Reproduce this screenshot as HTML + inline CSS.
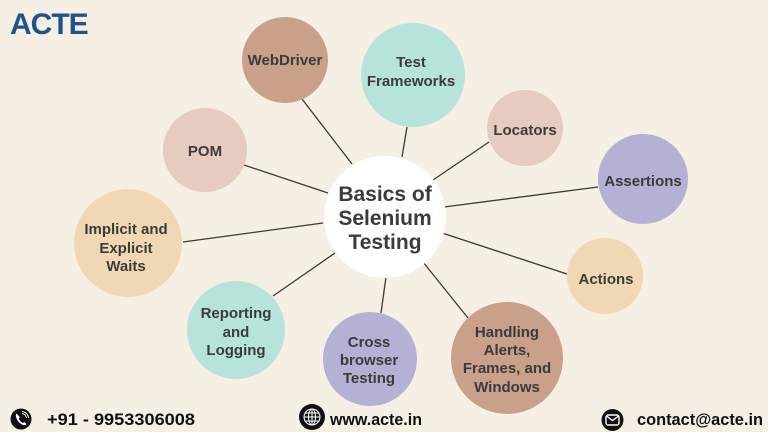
<!DOCTYPE html>
<html><head><meta charset="utf-8"><style>
html,body{margin:0;padding:0;background:#f6efe3;}
svg{display:block;}
text{font-family:"Liberation Sans",Arial,sans-serif;font-weight:bold;fill:#3b3b3b;}
</style></head><body>
<svg width="768" height="432" viewBox="0 0 768 432" xmlns="http://www.w3.org/2000/svg">
<rect width="768" height="432" fill="#f6efe3"/>
<!-- logo -->
<text x="10" y="34" font-size="30" style="fill:#1f5389;letter-spacing:-1px">ACTE</text>
<!-- connectors -->
<g stroke="#3a3a3a" stroke-width="1.3" fill="none">
<line x1="302" y1="99" x2="352" y2="164"/>
<line x1="407" y1="127" x2="402" y2="157"/>
<line x1="244" y1="165" x2="328" y2="193"/>
<line x1="489" y1="142" x2="433" y2="180"/>
<line x1="598" y1="187" x2="444" y2="207"/>
<line x1="567" y1="274" x2="442" y2="233"/>
<line x1="468" y1="318" x2="423" y2="262"/>
<line x1="381" y1="313" x2="386" y2="277"/>
<line x1="273" y1="296" x2="335" y2="253"/>
<line x1="183" y1="242" x2="323" y2="223"/>
</g>
<!-- nodes -->
<circle cx="285" cy="60" r="43" fill="#c9a089"/>
<circle cx="413" cy="75" r="52" fill="#b6e3da"/>
<circle cx="205" cy="150" r="42" fill="#e5cbc0"/>
<circle cx="525" cy="128" r="38" fill="#e5cbc0"/>
<circle cx="643" cy="179" r="45" fill="#b3b1d4"/>
<circle cx="605" cy="276" r="38" fill="#f1d8b4"/>
<circle cx="507" cy="358" r="56" fill="#c9a089"/>
<circle cx="370" cy="359" r="47" fill="#b3b1d4"/>
<circle cx="236" cy="330" r="49" fill="#b6e3da"/>
<circle cx="128" cy="243" r="54" fill="#f1d8b4"/>
<circle cx="385" cy="217" r="61" fill="#ffffff"/>
<!-- labels -->
<g font-size="15" text-anchor="middle">
<text x="285" y="65">WebDriver</text>
<text x="411" y="67">Test</text>
<text x="411" y="86">Frameworks</text>
<text x="205" y="156">POM</text>
<text x="525" y="135">Locators</text>
<text x="643" y="186">Assertions</text>
<text x="606" y="284">Actions</text>
<text x="507" y="337">Handling</text>
<text x="507" y="355">Alerts,</text>
<text x="507" y="373">Frames, and</text>
<text x="507" y="392">Windows</text>
<text x="369" y="347">Cross</text>
<text x="369" y="365">browser</text>
<text x="369" y="383">Testing</text>
<text x="236" y="318">Reporting</text>
<text x="236" y="337">and</text>
<text x="236" y="355">Logging</text>
<text x="126" y="234">Implicit and</text>
<text x="126" y="253">Explicit</text>
<text x="126" y="271">Waits</text>
</g>
<g font-size="21" text-anchor="middle">
<text x="385" y="201">Basics of</text>
<text x="385" y="225">Selenium</text>
<text x="385" y="249">Testing</text>
</g>
<!-- footer -->
<circle cx="21" cy="419" r="10.5" fill="#111"/>
<path d="M16.5 413.5 q-1.5 2 0.5 6 q2.5 4.5 6.5 5.5 q2 0.5 3 -1 l-2.2 -2 l-1.6 1 q-3 -1.5 -4 -4.5 l1.2 -1.4 z" fill="#fff"/>
<path d="M22 413.5 a5 5 0 0 1 4.5 4.5 M22 411.5 a7 7 0 0 1 6.5 6.5" stroke="#fff" stroke-width="1" fill="none"/>
<text x="47" y="425" font-size="17" textLength="148" lengthAdjust="spacingAndGlyphs" style="fill:#111">+91 - 9953306008</text>
<circle cx="312" cy="417" r="13" fill="#111"/>
<g stroke="#fff" stroke-width="1" fill="none">
<circle cx="312" cy="417" r="8"/>
<ellipse cx="312" cy="417" rx="3.5" ry="8"/>
<line x1="312" y1="409" x2="312" y2="425"/>
<line x1="304" y1="417" x2="320" y2="417"/>
<line x1="305.5" y1="413" x2="318.5" y2="413"/>
<line x1="305.5" y1="421" x2="318.5" y2="421"/>
</g>
<text x="330" y="425" font-size="17" textLength="92" lengthAdjust="spacingAndGlyphs" style="fill:#111">www.acte.in</text>
<circle cx="612.5" cy="420" r="11" fill="#111"/>
<rect x="606" y="415" width="13" height="10" rx="2" fill="none" stroke="#fff" stroke-width="1.4"/>
<path d="M606.5 416 l6 4.5 l6 -4.5" fill="none" stroke="#fff" stroke-width="1.4"/>
<text x="637" y="425" font-size="17" textLength="126" lengthAdjust="spacingAndGlyphs" style="fill:#111">contact@acte.in</text>
</svg>
</body></html>
